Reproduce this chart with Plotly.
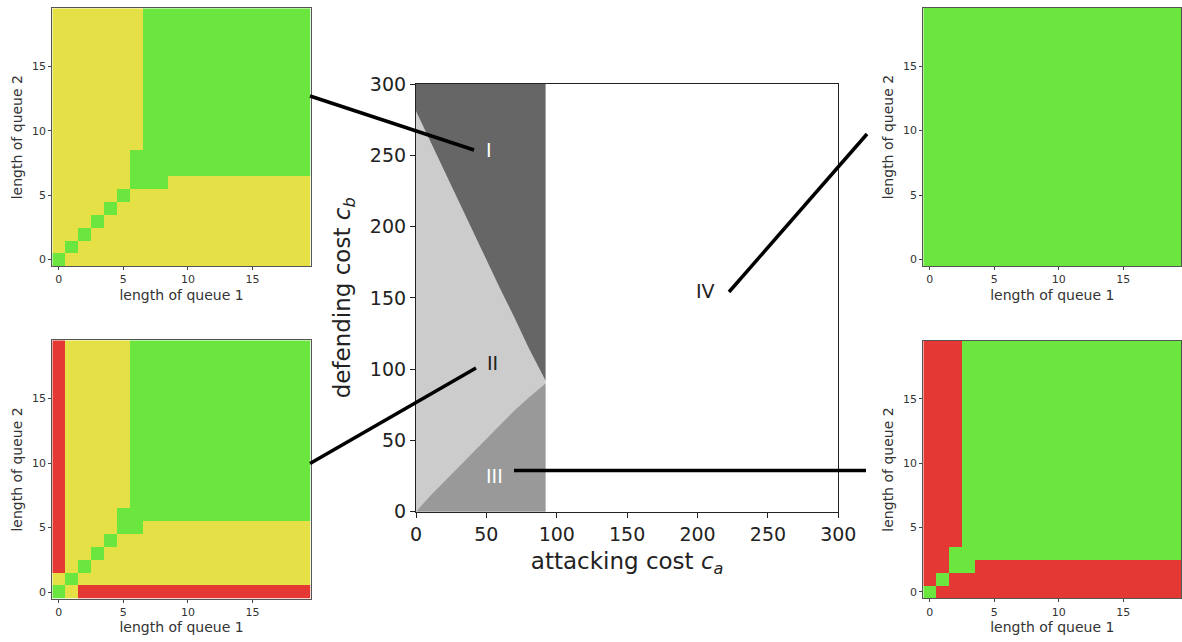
import plotly.graph_objects as go

# ---------------- data ----------------
# queue-length policy maps (rows listed from queue-2 length 19 down to 0; G=green, Y=yellow, R=red)
policy_I = (["YYYYYYYGGGGGGGGGGGGG"] * 11 + [
    "YYYYYYGGGGGGGGGGGGGG",
    "YYYYYYGGGGGGGGGGGGGG",
    "YYYYYYGGGYYYYYYYYYYY",
    "YYYYYGYYYYYYYYYYYYYY",
    "YYYYGYYYYYYYYYYYYYYY",
    "YYYGYYYYYYYYYYYYYYYY",
    "YYGYYYYYYYYYYYYYYYYY",
    "YGYYYYYYYYYYYYYYYYYY",
    "GYYYYYYYYYYYYYYYYYYY",
])
policy_II = (["RYYYYYGGGGGGGGGGGGGG"] * 13 + [
    "RYYYYGGGGGGGGGGGGGGG",
    "RYYYYGGYYYYYYYYYYYYY",
    "RYYYGYYYYYYYYYYYYYYY",
    "RYYGYYYYYYYYYYYYYYYY",
    "RYGYYYYYYYYYYYYYYYYY",
    "YGYYYYYYYYYYYYYYYYYY",
    "GYRRRRRRRRRRRRRRRRRR",
])
policy_III = (["RRRGGGGGGGGGGGGGGGGG"] * 16 + [
    "RRGGGGGGGGGGGGGGGGGG",
    "RRGGRRRRRRRRRRRRRRRR",
    "RGRRRRRRRRRRRRRRRRRR",
    "GRRRRRRRRRRRRRRRRRRR",
])
policy_IV = ["GGGGGGGGGGGGGGGGGGGG"] * 20

queue_len = list(range(20))
queue_ticks = [0, 5, 10, 15]

# region boundaries in the cost plane
ca_limit = 92
ca_upper = [0, 10, 20, 30, 40, 50, 60, 70, 80, 92]
cb_upper = [281, 260, 240, 219, 198, 177, 156, 136, 115, 92]
ca_lower = [0, 10, 20, 30, 40, 50, 60, 70, 80, 92]
cb_lower = [0, 11, 21, 31, 41, 51, 61, 71, 80, 90]
cost_ticks = [0, 50, 100, 150, 200, 250, 300]

region_labels = ["I", "II", "III", "IV"]
label_ca = [52, 54, 56, 206]
label_cb = [254, 104, 25, 155]
label_colors = ["white", "#222222", "white", "#222222"]

# ---------------- styling ----------------
W, H = 1182, 642
GREEN, YELLOW, RED = "#6ae63f", "#e4e046", "#e33833"
code = {"R": 0, "Y": 1, "G": 2}
FONT = "DejaVu Sans"


def px(x):
    return x / W


def py(y):
    return 1 - y / H


def to_z(rows):
    return [[code[c] for c in r] for r in reversed(rows)]


fig = go.Figure()

# center plot regions
fig.add_trace(go.Scatter(x=[0, ca_limit, ca_limit, 0], y=[0, 0, 300, 300], fill="toself",
                         fillcolor="#cccccc", line=dict(width=0), mode="lines",
                         showlegend=False, hoverinfo="skip", xaxis="x", yaxis="y"))
fig.add_trace(go.Scatter(x=ca_upper + [ca_limit, 0], y=cb_upper + [300, 300], fill="toself",
                         fillcolor="#666666", line=dict(width=0), mode="lines",
                         showlegend=False, hoverinfo="skip", xaxis="x", yaxis="y"))
fig.add_trace(go.Scatter(x=ca_lower + [ca_limit], y=cb_lower + [0], fill="toself",
                         fillcolor="#999999", line=dict(width=0), mode="lines",
                         showlegend=False, hoverinfo="skip", xaxis="x", yaxis="y"))

# heatmaps
colorscale = [[0, RED], [0.5, YELLOW], [1, GREEN]]
for i, pol in enumerate([policy_I, policy_II, policy_IV, policy_III], start=2):
    fig.add_trace(go.Heatmap(z=to_z(pol), x=queue_len, y=queue_len, zmin=0, zmax=2,
                             colorscale=colorscale, showscale=False, hoverinfo="skip",
                             xaxis=f"x{i}", yaxis=f"y{i}"))

layout = dict(width=W, height=H, margin=dict(l=0, r=0, t=0, b=0),
              paper_bgcolor="white", plot_bgcolor="white", showlegend=False,
              font=dict(family=FONT, color="#222222"))

# center axes
layout["xaxis"] = dict(domain=[px(416), px(838.3)], range=[0, 300], tickvals=cost_ticks,
                       ticks="outside", ticklen=5, tickcolor="#222", showline=True, mirror=True,
                       linecolor="#222", linewidth=1.2, showgrid=False, zeroline=False,
                       automargin=False,
                       tickfont=dict(size=19, family=FONT, color="#222"),
                       title=dict(text="attacking cost <i>c<sub>a</sub></i>",
                                  font=dict(size=23, family=FONT, color="#222"), standoff=9),
                       anchor="y")
layout["yaxis"] = dict(domain=[py(511.7), py(84)], range=[0, 300], tickvals=cost_ticks,
                       ticks="outside", ticklen=5, tickcolor="#222", showline=True, mirror=True,
                       linecolor="#222", linewidth=1.2, showgrid=False, zeroline=False,
                       automargin=False,
                       tickfont=dict(size=19, family=FONT, color="#222"),
                       title=dict(text="defending cost <i>c<sub>b</sub></i>",
                                  font=dict(size=23, family=FONT, color="#222"), standoff=12),
                       anchor="x")

boxes = {
    2: ([52.3, 310.7], [8.3, 266.0]),
    3: ([52.3, 310.7], [340.3, 598.7]),
    4: ([923.3, 1181.2], [8.0, 266.0]),
    5: ([923.3, 1181.2], [340.7, 598.3]),
}
for i, (bx, by) in boxes.items():
    common = dict(range=[-0.5, 19.5], tickvals=queue_ticks, ticks="outside", ticklen=3,
                  tickcolor="#444", showline=True, mirror=True, linecolor="#555", linewidth=1,
                  showgrid=False, zeroline=False, automargin=False,
                  tickfont=dict(size=11, family=FONT, color="#333"))
    layout[f"xaxis{i}"] = dict(domain=[px(bx[0]), px(bx[1])], anchor=f"y{i}",
                               title=dict(text="length of queue 1",
                                          font=dict(size=14, family=FONT, color="#333"),
                                          standoff=4), **common)
    layout[f"yaxis{i}"] = dict(domain=[py(by[1]), py(by[0])], anchor=f"x{i}",
                               title=dict(text="length of queue 2",
                                          font=dict(size=14, family=FONT, color="#333"),
                                          standoff=6), **common)

fig.update_layout(**layout)

# connector lines (paper coordinates, pixel positions)
connectors = [
    ((310, 96), (474, 150)),
    ((310, 463.5), (476, 368)),
    ((514, 470.5), (866, 470.5)),
    ((729, 292), (867, 134)),
]
for (x0, y0), (x1, y1) in connectors:
    fig.add_shape(type="line", xref="paper", yref="paper", x0=px(x0), y0=py(y0),
                  x1=px(x1), y1=py(y1), line=dict(color="black", width=3.5), layer="above")

for t, xa, ya, c in zip(region_labels, label_ca, label_cb, label_colors):
    fig.add_annotation(x=xa, y=ya, xref="x", yref="y", text=t, showarrow=False,
                       font=dict(size=19, family=FONT, color=c))

fig.write_html("out.html", config={"displayModeBar": False},
               post_script="document.body.style.margin='0';document.body.style.overflow='hidden';")
